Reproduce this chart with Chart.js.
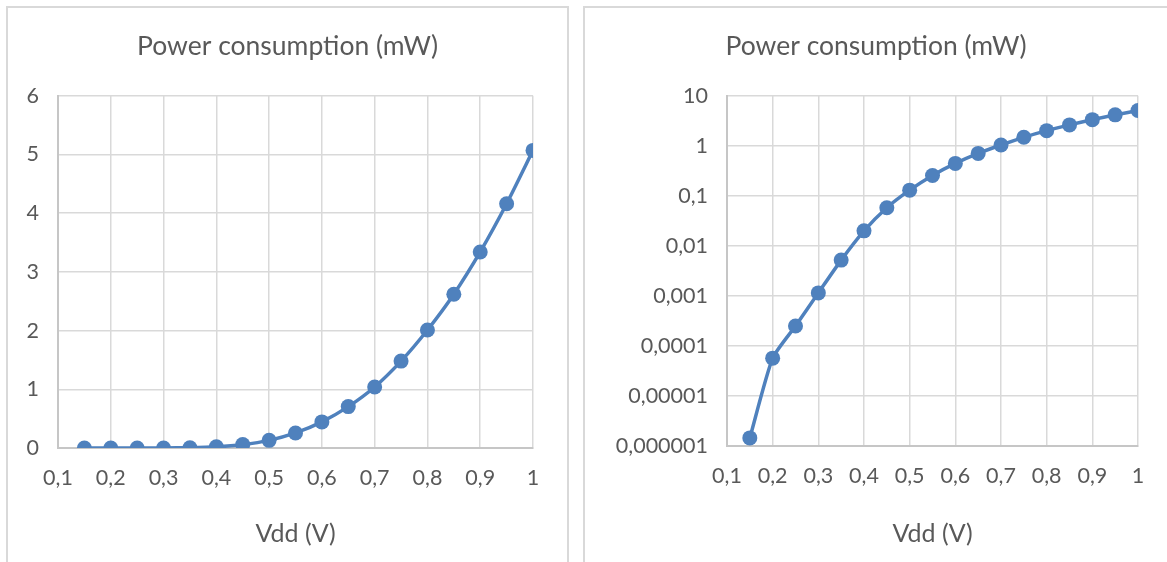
<!DOCTYPE html>
<html>
<head>
<meta charset="utf-8">
<script src="https://cdn.jsdelivr.net/npm/chart.js@4/dist/chart.umd.min.js"></script>
<style>
  html, body { margin: 0; padding: 0; background: #fff; overflow: hidden; }
  .panel { position: absolute; top: 6px; height: 600px; border: 2px solid #d9d9d9; background: #fff; }
  #panelLin { left: 6px; width: 559px; }
  #panelLog { left: 583px; width: 600px; }
  canvas { position: absolute; left: 0; top: 0; }
</style>
</head>
<body>
<div class="panel" id="panelLin"><div style="position:absolute;left:0;top:0;width:559px;height:554px"><canvas id="graficoLineal"></canvas></div></div>
<div class="panel" id="panelLog"><div style="position:absolute;left:0;top:0;width:582px;height:554px"><canvas id="graficoLog"></canvas></div></div>
<script>
// Tension de alimentacion (V) y potencia consumida (mW)
const vdd = [0.15, 0.2, 0.25, 0.3, 0.35, 0.4, 0.45, 0.5, 0.55, 0.6, 0.65, 0.7, 0.75, 0.8, 0.85, 0.9, 0.95, 1];
const potenciaMw = [0.00000145, 0.000057, 0.00025, 0.00115, 0.0052, 0.02, 0.058, 0.13, 0.256, 0.445, 0.705, 1.04, 1.48, 2.01, 2.62, 3.34, 4.16, 5.07];

const ticksX = [0.1, 0.2, 0.3, 0.4, 0.5, 0.6, 0.7, 0.8, 0.9, 1];
const ticksLineal = [0, 1, 2, 3, 4, 5, 6];
const ticksLog = [0.000001, 0.00001, 0.0001, 0.001, 0.01, 0.1, 1, 10];
const etiquetasLog = ['0,000001', '0,00001', '0,0001', '0,001', '0,01', '0,1', '1', '10'];

const titulo = 'Power consumption (mW)';
const tituloX = 'Vdd (V)';

const FUENTE = "Lato, 'Open Sans', sans-serif";
const GRIS_TEXTO = '#595959';
const AZUL = '#4f81bd';

const coma = v => String(Number(v.toFixed(6))).replace('.', ',');

const crearGrafico = (id, tipoY, opts) => {
    const ctx = document.getElementById(id);
    if (!ctx) return;

    const esLog = tipoY === 'logarithmic';

    new Chart(ctx, {
        type: 'line',
        data: {
            datasets: [{
                data: vdd.map((x, i) => ({ x: x, y: potenciaMw[i] })),
                borderColor: AZUL,
                backgroundColor: AZUL,
                borderWidth: 3.5,
                pointRadius: 7.5,
                pointHoverRadius: 7.5,
                pointBorderWidth: 0,
                tension: 0.2,
                fill: false
            }]
        },
        options: {
            responsive: true,
            maintainAspectRatio: false,
            animation: false,
            layout: { padding: { left: 0, right: 0, top: 0, bottom: 13 } },
            plugins: {
                legend: { display: false },
                tooltip: { enabled: false },
                title: {
                    display: true,
                    text: titulo,
                    color: GRIS_TEXTO,
                    font: { family: FUENTE, size: 26.5, weight: 'normal' },
                    padding: { top: 23, bottom: 33 }
                }
            },
            scales: {
                x: {
                    type: 'linear',
                    min: 0.1,
                    max: 1,
                    afterBuildTicks: s => { s.ticks = ticksX.map(v => ({ value: v })); },
                    // margen derecho reservado en la escala para que el titulo quede centrado en el panel
                    afterFit: s => { s.height = opts.altoX; s.paddingRight = opts.derecha; },
                    grid: { color: '#d9d9d9', lineWidth: 1.5, drawTicks: false },
                    border: { color: '#c6c6c6', width: 2 },
                    ticks: {
                        color: GRIS_TEXTO,
                        padding: 17,
                        maxRotation: 0,
                        font: { family: FUENTE, size: 21.5 },
                        callback: v => coma(v)
                    },
                    title: {
                        display: true,
                        text: tituloX,
                        color: GRIS_TEXTO,
                        padding: 0,
                        font: { family: FUENTE, size: 25 }
                    }
                },
                y: {
                    type: tipoY,
                    min: esLog ? ticksLog[0] : ticksLineal[0],
                    max: esLog ? ticksLog[ticksLog.length - 1] : ticksLineal[ticksLineal.length - 1],
                    afterBuildTicks: s => {
                        s.ticks = (esLog ? ticksLog : ticksLineal).map(v => ({ value: v }));
                    },
                    afterFit: s => { s.width = opts.anchoY; },
                    grid: { color: '#d9d9d9', lineWidth: 1.5, drawTicks: false },
                    border: { color: '#c6c6c6', width: 2 },
                    ticks: {
                        color: GRIS_TEXTO,
                        padding: 19,
                        font: { family: FUENTE, size: 21.5 },
                        callback: (v, i) => esLog ? etiquetasLog[ticksLog.indexOf(v)] : coma(v)
                    }
                }
            }
        }
    });
};

crearGrafico('graficoLineal', 'linear', { anchoY: 50, derecha: 34, altoX: 101 });
crearGrafico('graficoLog', 'logarithmic', { anchoY: 142, derecha: 29, altoX: 103 });
</script>
</body>
</html>
